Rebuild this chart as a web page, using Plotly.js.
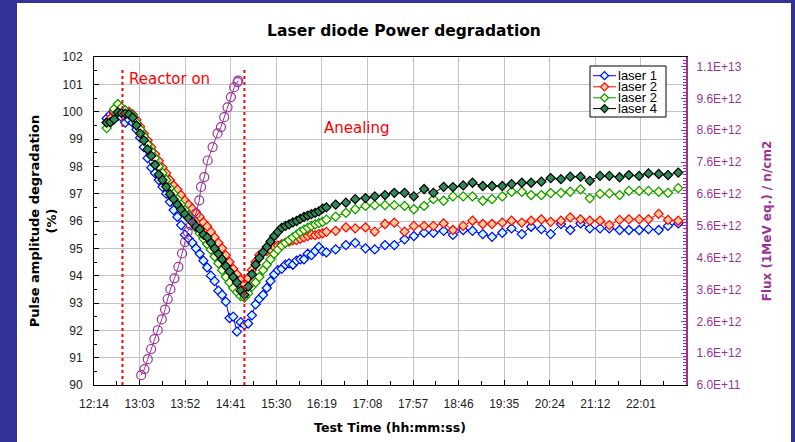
<!DOCTYPE html>
<html><head><meta charset="utf-8">
<script src="https://cdn.plot.ly/plotly-3.0.1.min.js"></script>
<style>html,body{margin:0;padding:0;background:#333399;}#chart{width:795px;height:442px;}</style>
</head><body><div id="chart"></div>
<script>
// ---- data ----
const timeLabels = [
"12:28","12:32","12:36","12:40","12:44","12:48","12:52","12:56","13:00","13:04",
"13:08","13:12","13:16","13:20","13:24","13:28","13:32","13:36","13:40","13:44",
"13:48","13:52","13:56","14:00","14:04","14:08","14:12","14:16","14:20","14:24",
"14:28","14:32","14:36","14:40","14:44","14:48","14:52","14:56","15:00","15:04",
"15:08","15:12","15:16","15:20","15:24","15:28","15:32","15:36","15:40","15:44",
"15:48","15:52","15:56","16:00","16:04","16:08","16:12","16:16","16:20","16:24",
"16:34","16:45","16:55","17:06","17:16","17:27","17:37","17:48","17:58","18:09",
"18:19","18:30","18:40","18:51","19:01","19:12","19:22","19:33","19:43","19:54",
"20:04","20:15","20:25","20:36","20:46","20:57","21:07","21:18","21:28","21:39",
"21:49","22:00","22:10","22:21","22:31","22:42"];

const laser1 = [
99.75,99.9,99.95,99.85,99.8,99.6,99.7,99.6,99.35,99.05,
98.7,98.3,97.95,97.75,97.5,97.25,97.0,96.7,96.4,96.15,
95.85,95.5,95.35,95.2,95.0,94.8,94.55,94.3,94.0,93.8,
93.45,93.3,93.05,92.45,92.5,91.95,92.3,92.2,92.25,92.55,
92.95,93.15,93.3,93.55,93.8,94.05,94.2,94.25,94.4,94.45,
94.4,94.55,94.6,94.6,94.8,94.75,94.9,95.05,94.9,94.85,
94.96,95.12,95.2,95.0,94.96,95.12,95.12,95.33,95.45,95.57,
95.57,95.64,95.49,95.67,95.64,95.52,95.42,95.57,95.73,95.52,
95.79,95.7,95.52,95.89,95.67,95.91,95.73,95.73,95.73,95.67,
95.67,95.67,95.7,95.67,95.82,95.91];

const laser2a = [
99.6,99.75,100.0,100.2,100.1,100.05,100.0,99.9,99.7,99.45,
99.2,98.95,98.7,98.45,98.2,97.95,97.75,97.5,97.3,97.15,
96.95,96.75,96.6,96.45,96.3,96.15,95.95,95.8,95.6,95.4,
95.2,95.0,94.75,94.5,94.25,94.05,93.85,93.7,93.9,94.2,
94.5,94.75,94.85,94.9,94.95,95.05,95.1,95.15,95.2,95.25,
95.3,95.3,95.35,95.4,95.45,95.5,95.48,95.52,95.55,95.6,
95.64,95.77,95.73,95.77,95.61,95.89,95.94,95.61,95.82,95.82,
95.82,95.91,95.67,95.82,96.01,95.89,95.89,95.94,96.01,95.94,
96.01,96.06,95.97,96.01,96.13,96.06,96.01,96.01,95.85,96.04,
96.06,96.06,96.06,96.26,96.04,96.01];

const laser2b = [
99.4,99.6,100.1,100.28,100.15,100.05,99.95,99.85,99.6,99.35,
99.1,98.8,98.55,98.3,98.0,97.75,97.5,97.2,97.0,96.8,
96.6,96.4,96.2,96.0,95.75,95.55,95.35,95.15,94.95,94.7,
94.45,94.2,93.95,93.75,93.55,93.4,93.25,93.2,93.35,93.6,
93.75,93.95,94.2,94.4,94.6,94.8,94.95,95.1,95.2,95.3,
95.4,95.5,95.6,95.68,95.75,95.82,95.88,95.92,95.97,96.05,
96.16,96.3,96.43,96.55,96.58,96.58,96.58,96.55,96.43,96.55,
96.8,96.74,96.9,96.9,96.9,96.74,96.8,96.9,97.07,97.07,
96.95,96.95,97.02,97.03,97.07,97.16,96.83,96.99,97.01,96.95,
97.1,97.1,97.1,97.07,97.03,97.2];

const laser4 = [
99.6,99.62,99.72,99.98,99.95,99.93,99.9,99.78,99.5,99.2,
98.95,98.62,98.38,98.05,97.7,97.5,97.25,96.98,96.8,96.6,
96.42,96.25,96.1,95.95,95.8,95.7,95.5,95.4,95.2,95.0,
94.8,94.6,94.35,94.15,93.95,93.75,93.45,93.3,93.6,94.05,
94.4,94.65,94.85,95.05,95.25,95.45,95.6,95.75,95.82,95.88,
95.95,96.0,96.08,96.15,96.2,96.25,96.3,96.35,96.45,96.5,
96.6,96.67,96.8,96.84,96.9,96.95,97.03,97.03,96.9,97.17,
97.03,97.25,97.24,97.3,97.4,97.28,97.28,97.28,97.35,97.4,
97.4,97.44,97.57,97.53,97.62,97.62,97.47,97.65,97.65,97.6,
97.68,97.65,97.74,97.72,97.68,97.77];

const fluxTimes = ["13:05:06","13:08:36","13:12:12","13:15:48","13:19:18","13:22:54","13:27:12","13:30:48","13:33:36","13:36:30",
"13:40:48","13:45:00","13:49:00","13:52:12","13:55:00","13:58:36","14:04:00","14:07:30","14:09:24","14:12:54",
"14:16:30","14:21:48","14:27:06","14:30:48","14:34:18","14:37:54","14:41:30","14:45:00","14:48:36","14:49:18"];
const flux = [0.91e12,1.10e12,1.41e12,1.73e12,2.04e12,2.32e12,2.66e12,2.97e12,3.30e12,3.61e12,
3.95e12,4.31e12,4.73e12,5.09e12,5.41e12,5.62e12,5.99e12,6.40e12,6.82e12,7.13e12,
7.65e12,8.07e12,8.50e12,8.70e12,9.01e12,9.32e12,9.64e12,9.95e12,10.11e12,10.16e12];

const seriesNames = ["laser 1","laser 2","laser 2","laser 4"];
const fluxTickVals = [6e11,1.6e12,2.6e12,3.6e12,4.6e12,5.6e12,6.6e12,7.6e12,8.6e12,9.6e12,1.06e13];
const fluxTickText = ["6.0E+11","1.6E+12","2.6E+12","3.6E+12","4.6E+12","5.6E+12","6.6E+12","7.6E+12","8.6E+12","9.6E+12","1.1E+13"];
const reactorOn = "12:45";
const reactorOff = "14:56";

// ---- styles ----
const DAY = "2000-01-01 ";
const toX = a => a.map(t => DAY + t);
const styles = [
  {line:"#0000ff", fill:"#ccffff", mline:"#0000ff"},
  {line:"#ff0000", fill:"#ffcc99", mline:"#ff0000"},
  {line:"#009900", fill:"#ffffcc", mline:"#009900"},
  {line:"#000000", fill:"#2e8b57", mline:"#000000"}
];
const PURPLE = "#993399";
const xs = toX(timeLabels);
const ys = [laser1, laser2a, laser2b, laser4];

const traces = ys.map((y,i)=>({
  type:"scatter", mode:"lines+markers", x:xs, y:y, name:seriesNames[i],
  line:{color:styles[i].line, width:1},
  marker:{symbol:"diamond", size:7, color:styles[i].fill, line:{color:styles[i].mline, width:1.2}},
  showlegend:false, cliponaxis:true
}));
traces.push({
  type:"scatter", mode:"lines+markers", x:toX(fluxTimes), y:flux, yaxis:"y2", name:"Flux",
  line:{color:PURPLE, width:1},
  marker:{symbol:"circle-open", size:9, color:PURPLE, line:{width:1.2}},
  showlegend:false
});

// plot area in pixels: x 94..686, y 57..385
const L=94, R=686, T=57, B=385;
const px = v => (v-L)/(R-L);
const py = v => (B-v)/(B-T);

const shapes = [
  {type:"rect", xref:"paper", yref:"paper", x0:px(17), x1:px(791), y0:py(445), y1:py(3),
   fillcolor:"#ffffff", line:{width:0}, layer:"below"},
  {type:"line", xref:"x", yref:"y", x0:DAY+reactorOn, x1:DAY+reactorOn, y0:90, y1:101.56,
   line:{color:"#ff0000", width:2, dash:"dot"}},
  {type:"line", xref:"x", yref:"y", x0:DAY+reactorOff, x1:DAY+reactorOff, y0:90, y1:101.56,
   line:{color:"#ff0000", width:2, dash:"dot"}},
  {type:"rect", xref:"paper", yref:"paper", x0:px(590), x1:px(666), y0:py(117), y1:py(66),
   fillcolor:"#ffffff", line:{color:"#000000", width:1}}
];
const annotations = [
  {xref:"x", yref:"y", x:DAY+"12:50:00", y:101.2, xanchor:"left", yanchor:"middle", showarrow:false,
   text:"Reactor on", font:{family:"DejaVu Sans", size:15, color:"#ff0000"}},
  {xref:"x", yref:"y", x:DAY+"16:19:30", y:99.4, xanchor:"left", yanchor:"middle", showarrow:false,
   text:"Anealing", font:{family:"DejaVu Sans", size:15, color:"#ff0000"}}
];
const rowY = [75.7, 86.8, 97.8, 108.6];
const dx = 4/(R-L), dy = 4/(B-T);
seriesNames.forEach((n,i)=>{
  const cy = py(rowY[i]);
  shapes.push({type:"line", xref:"paper", yref:"paper", x0:px(593), x1:px(616), y0:cy, y1:cy,
    line:{color:styles[i].line, width:1}});
  const cx = px(604.5);
  shapes.push({type:"path", xref:"paper", yref:"paper",
    path:`M ${cx-dx},${cy} L ${cx},${cy+dy} L ${cx+dx},${cy} L ${cx},${cy-dy} Z`,
    fillcolor:styles[i].fill, line:{color:styles[i].mline, width:1.2}});
  annotations.push({xref:"paper", yref:"paper", x:px(617), y:cy, xanchor:"left", yanchor:"middle",
    showarrow:false, borderpad:0, text:n, font:{family:"Liberation Sans", size:13, color:"#000"}});
});

const tickFont = {family:"Liberation Sans", size:12, color:"#222222"};
const layout = {
  width:795, height:442,
  margin:{l:L, r:795-R, t:T, b:442-B, pad:0},
  paper_bgcolor:"#333399", plot_bgcolor:"#ffffff",
  showlegend:false,
  title:{text:"Laser diode Power degradation", x:404/795, xanchor:"center", y:1-31/442, yanchor:"middle",
         font:{family:"DejaVu Sans", size:15.5, weight:"bold", color:"#000"}},
  xaxis:{type:"date", range:[DAY+"12:14:25", DAY+"22:50:20"],
         tickmode:"linear", tick0:DAY+"12:14:25", dtick:2937600, tickformat:"%H:%M",
         ticks:"inside", ticklen:5, tickcolor:"#000",
         minor:{tickmode:"linear", tick0:DAY+"12:14:25", dtick:1468800, ticks:"inside", ticklen:4, tickcolor:"#000", showgrid:false},
         showgrid:true, gridcolor:"#c4c4c4", gridwidth:1,
         showline:true, linecolor:"#000", linewidth:1, mirror:true,
         tickfont:tickFont, ticklabelstandoff:8, zeroline:false,
         title:{text:"Test Time (hh:mm:ss)", standoff:12, font:{family:"DejaVu Sans", size:12.5, weight:"bold", color:"#000"}}},
  yaxis:{range:[90,102], dtick:1, tick0:90, ticks:"inside", ticklen:5, tickcolor:"#000",
         minor:{dtick:0.5, ticks:"inside", ticklen:3, tickcolor:"#000", showgrid:false},
         showgrid:true, gridcolor:"#c4c4c4", gridwidth:1,
         showline:true, linecolor:"#000", linewidth:1, zeroline:false,
         tickfont:tickFont, ticklabelstandoff:8,
         title:{text:"Pulse amplitude degradation<br>(%)", standoff:3, font:{family:"DejaVu Sans", size:13, weight:"bold", color:"#000"}}},
  yaxis2:{overlaying:"y", side:"right", range:[6e11,1.09e13],
          tickmode:"array", tickvals:fluxTickVals, ticktext:fluxTickText,
          ticks:"inside", ticklen:5, tickcolor:PURPLE,
          minor:{tickmode:"linear", tick0:6e11, dtick:1e11, ticks:"inside", ticklen:3, tickcolor:PURPLE, showgrid:false},
          showgrid:false, zeroline:false, showline:true, linecolor:PURPLE, linewidth:2,
          tickfont:{family:"Liberation Sans", size:12, color:PURPLE}, ticklabelstandoff:6,
          title:{text:"Flux (1MeV eq.) / n/cm2", standoff:22, font:{family:"DejaVu Sans", size:12, weight:"bold", color:PURPLE}}},
  shapes:shapes, annotations:annotations
};
Plotly.newPlot("chart", traces, layout, {displayModeBar:false, staticPlot:true});
</script></body></html>
